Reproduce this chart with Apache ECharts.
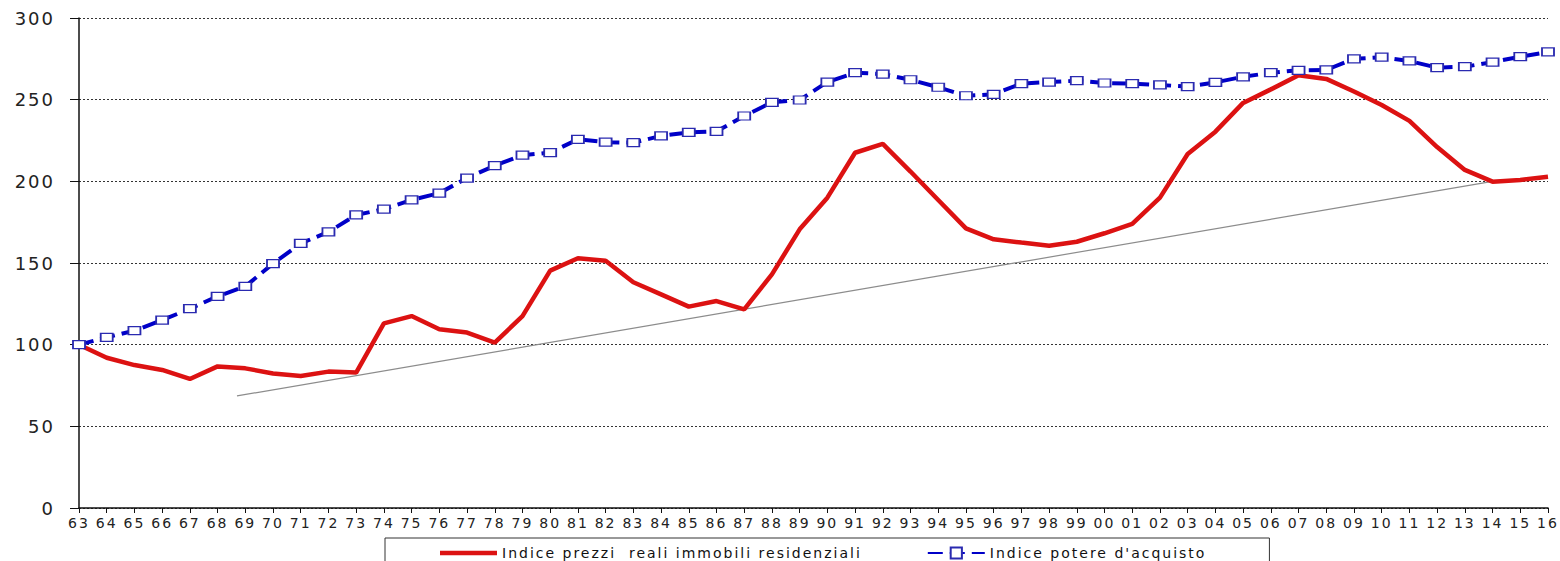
<!DOCTYPE html>
<html>
<head>
<meta charset="utf-8">
<script src="https://cdn.jsdelivr.net/npm/echarts@6/dist/echarts.min.js"></script>
<style>
  html, body { margin: 0; padding: 0; background: #fff; }
  #chart { width: 1560px; height: 561px; }
  /* the source picture has widely spaced letters */
  #chart svg text { letter-spacing: 2px; }
</style>
</head>
<body>
<div id="chart"></div>
<script>
// anni 1963-2016
const years = ['63','64','65','66','67','68','69','70','71','72','73','74','75','76','77','78','79','80','81','82','83','84','85','86','87','88','89','90','91','92','93','94','95','96','97','98','99','00','01','02','03','04','05','06','07','08','09','10','11','12','13','14','15','16']

// Indice prezzi reali immobili residenziali
const prezziReali = [100, 92, 87.5, 84.5, 79, 86.7, 85.5, 82.4, 80.8, 83.5, 82.9, 113, 117.5, 109.4, 107.4, 101.2, 117.5, 145.3, 152.9, 151.4, 138.2, 130.8, 123.3, 126.7, 121.6, 143, 170.6, 190, 217.5, 222.9, 206, 188.6, 171.2, 164.5, 162.5, 160.6, 163, 168.2, 173.9, 190, 216.7, 230.4, 248, 256.3, 265, 262.7, 255, 246.7, 237, 221, 207, 199.8, 200.8, 202.8]

// Indice potere d'acquisto
const potereAcquisto = [100, 104.5, 108.6, 115, 122, 129.6, 135.7, 149.6, 162, 169, 179.4, 183, 188.6, 192.8, 202, 209.6, 216, 217.6, 225.7, 224, 223.7, 227.8, 230, 230.6, 240, 248.4, 249.8, 260.8, 266.5, 265.7, 262.2, 257.6, 252.4, 253.3, 259.8, 260.8, 261.6, 260.2, 259.8, 259, 258, 260.6, 264, 266.5, 268, 268.2, 275, 276, 273.7, 269.6, 270.2, 273, 276.3, 279.2]

// linea di tendenza: [posizione anno (0 = 1963), valore]
const trendLine = [[5.7, 68.6], [51, 200]]

const yTicks = { min: 0, max: 300, step: 50 }

const chart = echarts.init(document.getElementById('chart'), null, { renderer: 'svg' })

const option = {
  animation: false,
  backgroundColor: '#fff',
  textStyle: { fontFamily: 'DejaVu Sans' },
  grid: { left: 79, right: 12, top: 18, bottom: 53 },
  legend: {
    left: 385,
    top: 538,
    padding: [8, 111, 20, 55],
    itemGap: 149,
    itemWidth: 57,
    itemHeight: 14,
    borderColor: '#333',
    borderWidth: 1,
    textStyle: { fontSize: 14, color: '#111', fontFamily: 'DejaVu Sans' },
    data: [
      // solid red bar as the legend key, no marker
      { name: 'Indice prezzi  reali immobili residenziali', icon: 'path://M0,0H57V4.5H0Z' },
      { name: "Indice potere d'acquisto" }
    ]
  },
  xAxis: [
    {
      type: 'category',
      data: years,
      boundaryGap: false,
      axisLine: { lineStyle: { color: '#111', width: 1.5 } },
      axisTick: { show: true, length: 5, interval: 0, lineStyle: { color: '#111' } },
      axisLabel: { interval: 0, margin: 8, fontSize: 14, color: '#222' },
      splitLine: { show: false }
    },
    {
      type: 'value',
      min: 0,
      max: years.length - 1,
      show: false
    }
  ],
  yAxis: {
    type: 'value',
    min: yTicks.min,
    max: yTicks.max,
    interval: yTicks.step,
    axisLine: { show: true, lineStyle: { color: '#111', width: 1.5 } },
    axisTick: { show: true, length: 9, lineStyle: { color: '#111' } },
    axisLabel: { margin: 24, fontSize: 18, color: '#222' },
    splitLine: { lineStyle: { color: '#333', width: 1, type: [2, 2] } }
  },
  series: [
    {
      name: 'trend',
      type: 'line',
      xAxisIndex: 1,
      data: trendLine,
      symbol: 'none',
      silent: true,
      lineStyle: { color: '#8c8c8c', width: 1.2 },
      z: 1
    },
    {
      name: 'Indice prezzi  reali immobili residenziali',
      type: 'line',
      data: prezziReali,
      symbol: 'none',
      itemStyle: { color: '#dc1212' },
      lineStyle: { color: '#dc1212', width: 4.5 },
      z: 2
    },
    {
      name: "Indice potere d'acquisto",
      type: 'line',
      data: potereAcquisto,
      symbol: 'rect',
      symbolSize: [12, 8],
      showSymbol: true,
      itemStyle: { color: '#fff', borderColor: '#2a2ab0', borderWidth: 1.5 },
      lineStyle: { color: '#0000c8', width: 4, type: [15, 7] },
      z: 3
    }
  ]
}

chart.setOption(option)
</script>
</body>
</html>
